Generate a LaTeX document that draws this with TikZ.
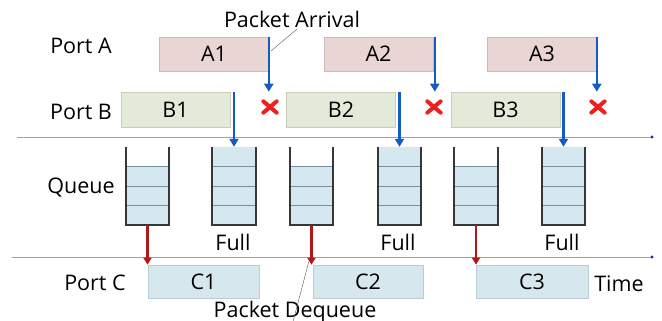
\documentclass[tikz,border=0pt]{standalone}
\usepackage{fontspec}
\setmainfont{Open Sans}
\usetikzlibrary{arrows.meta}
\definecolor{afill}{RGB}{233,214,212}
\definecolor{aline}{RGB}{205,185,182}
\definecolor{bfill}{RGB}{228,234,217}
\definecolor{bline}{RGB}{198,206,186}
\definecolor{cfill}{RGB}{214,231,238}
\definecolor{cline}{RGB}{184,204,214}
\definecolor{qfill}{RGB}{213,232,240}
\definecolor{qsep}{RGB}{120,145,160}
\definecolor{qwall}{RGB}{55,55,55}
\definecolor{bluearr}{RGB}{22,92,192}
\definecolor{redarr}{RGB}{176,24,24}
\definecolor{xred}{RGB}{240,30,30}
\definecolor{axis}{RGB}{150,160,205}
\definecolor{axisdot}{RGB}{40,50,120}
\definecolor{leadc}{RGB}{110,110,110}
\begin{document}
\begin{tikzpicture}[x=1pt,y=-1pt,
  every node/.style={font=\fontsize{21.5}{24}\selectfont, inner sep=0pt},
  lab/.style={anchor=base},
  pbox/.style={minimum height=34pt, line width=0.6pt},
  abox/.style={pbox, fill=afill, draw=aline, minimum width=109pt},
  bbox/.style={pbox, fill=bfill, draw=bline, minimum width=109pt, minimum height=35pt},
  cbox/.style={pbox, fill=cfill, draw=cline, minimum height=33pt},
  qnode/.style={minimum width=43pt, minimum height=78pt},
  bluea/.style={draw=bluearr, line width=2.6pt, -{Triangle[width=9pt,length=8pt]}},
  reda/.style={draw=redarr, line width=2.2pt, -{Triangle[width=8pt,length=7pt]}},
  xmk/.style={minimum width=18pt, minimum height=16pt},
  xline/.style={draw=xred, line width=4pt, line cap=round},
  axisl/.style={draw=axis, line width=0.8pt},
  leader/.style={draw=leadc, line width=0.5pt}
]
\useasboundingbox (0,0) rectangle (662,321);

% axis lines
\coordinate (L1s) at (17,137);
\coordinate (L1e) at (652,137);
\coordinate (L2s) at (12,257);
\coordinate (L2e) at (652,257);
\draw[axisl] (L1s) -- (L1e);
\draw[axisl] (L2s) -- (L2e);
\fill[axisdot] (L1e) circle (1.6pt);
\fill[axisdot] (L2e) circle (1.6pt);

% labels
\node[lab] (pA) at (81,54) {Port A};
\node[lab] (pB) at (81,119) {Port B};
\node[lab] (qL) at (81,193) {Queue};
\node[lab] (pC) at (95,290) {Port C};
\node[lab] (tm) at (619,291) {Time};
\node[lab] (PA) at (292,28) {Packet Arrival};
\node[lab] (PD) at (295,317) {Packet Dequeue};

% Port A boxes
\node[abox] (A1) at (214,54) {A1};
\node[abox] (A2) at (378.5,54) {A2};
\node[abox] (A3) at (542,54) {A3};
% Port B boxes
\node[bbox] (B1) at (175.5,109.5) {B1};
\node[bbox] (B2) at (341,109.5) {B2};
\node[bbox] (B3) at (505.5,109.5) {B3};
% Port C boxes
\node[cbox, minimum width=111pt] (C1) at (203.5,281.5) {C1};
\node[cbox, minimum width=110pt] (C2) at (368,281.5) {C2};
\node[cbox, minimum width=112pt] (C3) at (532,281.5) {C3};

% queues
\foreach \nm/\cx/\nf in {Q1/147.5/3, Q2/234/4, Q3/311.5/3, Q4/399.5/4, Q5/476/3, Q6/563.5/4}{
  \node[qnode] (\nm) at (\cx,186) {};
  \fill[qfill] (\nm.south west) rectangle ([yshift=\nf*19.5pt]\nm.south east);
  \foreach \k in {1,...,\nf}{
    \ifnum\k<4
      \draw[qsep, line width=0.6pt] ([yshift=\k*19.5pt]\nm.south west) -- ([yshift=\k*19.5pt]\nm.south east);
    \fi
  }
  \draw[qwall, line width=1.8pt] (\nm.north west) -- (\nm.south west) -- (\nm.south east) -- (\nm.north east);
}

% Full labels
\node[lab] (F1) at (233,250) {Full};
\node[lab] (F2) at (398,250) {Full};
\node[lab] (F3) at (562,250) {Full};

% drop marks
\foreach \nm/\cx in {X1/270, X2/434, X3/598}{
  \node[xmk] (\nm) at (\cx,107) {};
  \draw[xline] ([shift={(2.5pt,-2.5pt)}]\nm.north west) -- ([shift={(-2.5pt,2.5pt)}]\nm.south east);
  \draw[xline] ([shift={(-2.5pt,-2.5pt)}]\nm.north east) -- ([shift={(2.5pt,2.5pt)}]\nm.south west);
}

% arrival arrows from port A
\draw[bluea] (A1.north east) -- (A1.north east |- B1.north);
\draw[bluea] ([xshift=1.5pt]A2.north east) -- ([xshift=1.5pt]A2.north east |- B1.north);
\draw[bluea] (A3.north east) -- (A3.north east |- B1.north);
% arrival arrows from port B into queues
\draw[bluea] (Q2.north |- B1.north) -- (Q2.north);
\draw[bluea] (Q4.north |- B2.north) -- (Q4.north);
\draw[bluea] (Q6.north |- B3.north) -- (Q6.north);
% dequeue arrows
\draw[reda] (Q1.south) -- (Q1.south |- C1.north);
\draw[reda] (Q3.south) -- (Q3.south |- C2.north);
\draw[reda] (Q5.south) -- (Q5.south |- C3.north);

% leader lines
\coordinate (paT) at (271,51);
\coordinate (pdT) at (309,261);
\draw[leader] ([xshift=5pt,yshift=-1pt]PA.base) -- (paT);
\draw[leader] ([xshift=-5pt,yshift=-16pt]PD.base) -- (pdT);
\end{tikzpicture}
\end{document}
